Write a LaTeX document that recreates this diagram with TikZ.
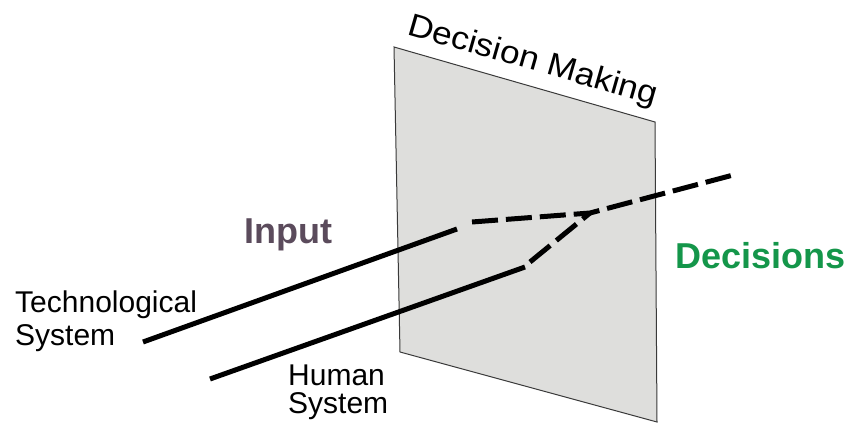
\documentclass[tikz,border=0pt]{standalone}
\usepackage{fontspec}
\setmainfont{Liberation Sans}
\definecolor{panelgray}{HTML}{DEDEDC}
\definecolor{paneledge}{HTML}{3A3A3A}
\definecolor{inputcol}{HTML}{5B4B5C}
\definecolor{decgreen}{HTML}{14964A}
\begin{document}
\begin{tikzpicture}[x=1pt,y=-1pt,
  flow/.style={line width=5pt,black},
  flowdash/.style={flow,dash pattern=on 26pt off 8pt},
  plainlbl/.style={inner sep=0pt,align=left,font=\fontsize{30}{33}\selectfont},
  boldlbl/.style={inner sep=0pt,anchor=base west,font=\fontsize{36}{40}\selectfont\bfseries}]
\useasboundingbox (0,0) rectangle (849,423);

% decision plane
\coordinate (ptl) at (394,47);
\coordinate (ptr) at (655,122);
\coordinate (pbr) at (657,422);
\coordinate (pbl) at (400,352);
\filldraw[fill=panelgray,draw=paneledge,line width=1pt] (ptl) -- (ptr) -- (pbr) -- (pbl) -- cycle;

% plane title along the top edge
\node[inner sep=0pt,anchor=base west,rotate=-16,font=\fontsize{32}{35}\selectfont]
  (title) at (406,34) {\scalebox{1.1}[1]{Decision Making}};

% input and output streams
\coordinate (techstart) at (143,342);
\coordinate (techend) at (457,229);
\coordinate (techdash) at (472,222);
\coordinate (humstart) at (210,379);
\coordinate (humend) at (525,267);
\coordinate (humdash) at (530,262);
\coordinate (merge) at (590,213);
\coordinate (outend) at (737,174);

\draw[flow] (techstart) -- (techend);
\draw[flow] (humstart) -- (humend);
\draw[flowdash] (techdash) -- (merge) -- (outend);
\draw[flowdash] (humdash) -- (merge);

% labels (multi-line nodes sit on the baseline of their last line)
\node[boldlbl,text=inputcol] (input) at (244,243) {Input};
\node[boldlbl,text=decgreen] (decisions) at (675,268) {Decisions};
\node[plainlbl,anchor=base west] (techlbl) at (15,345) {Technological\\System};
\node[plainlbl,anchor=base west,font=\fontsize{30}{28}\selectfont] (humlbl) at (288,413) {Human\\System};
\end{tikzpicture}
\end{document}
